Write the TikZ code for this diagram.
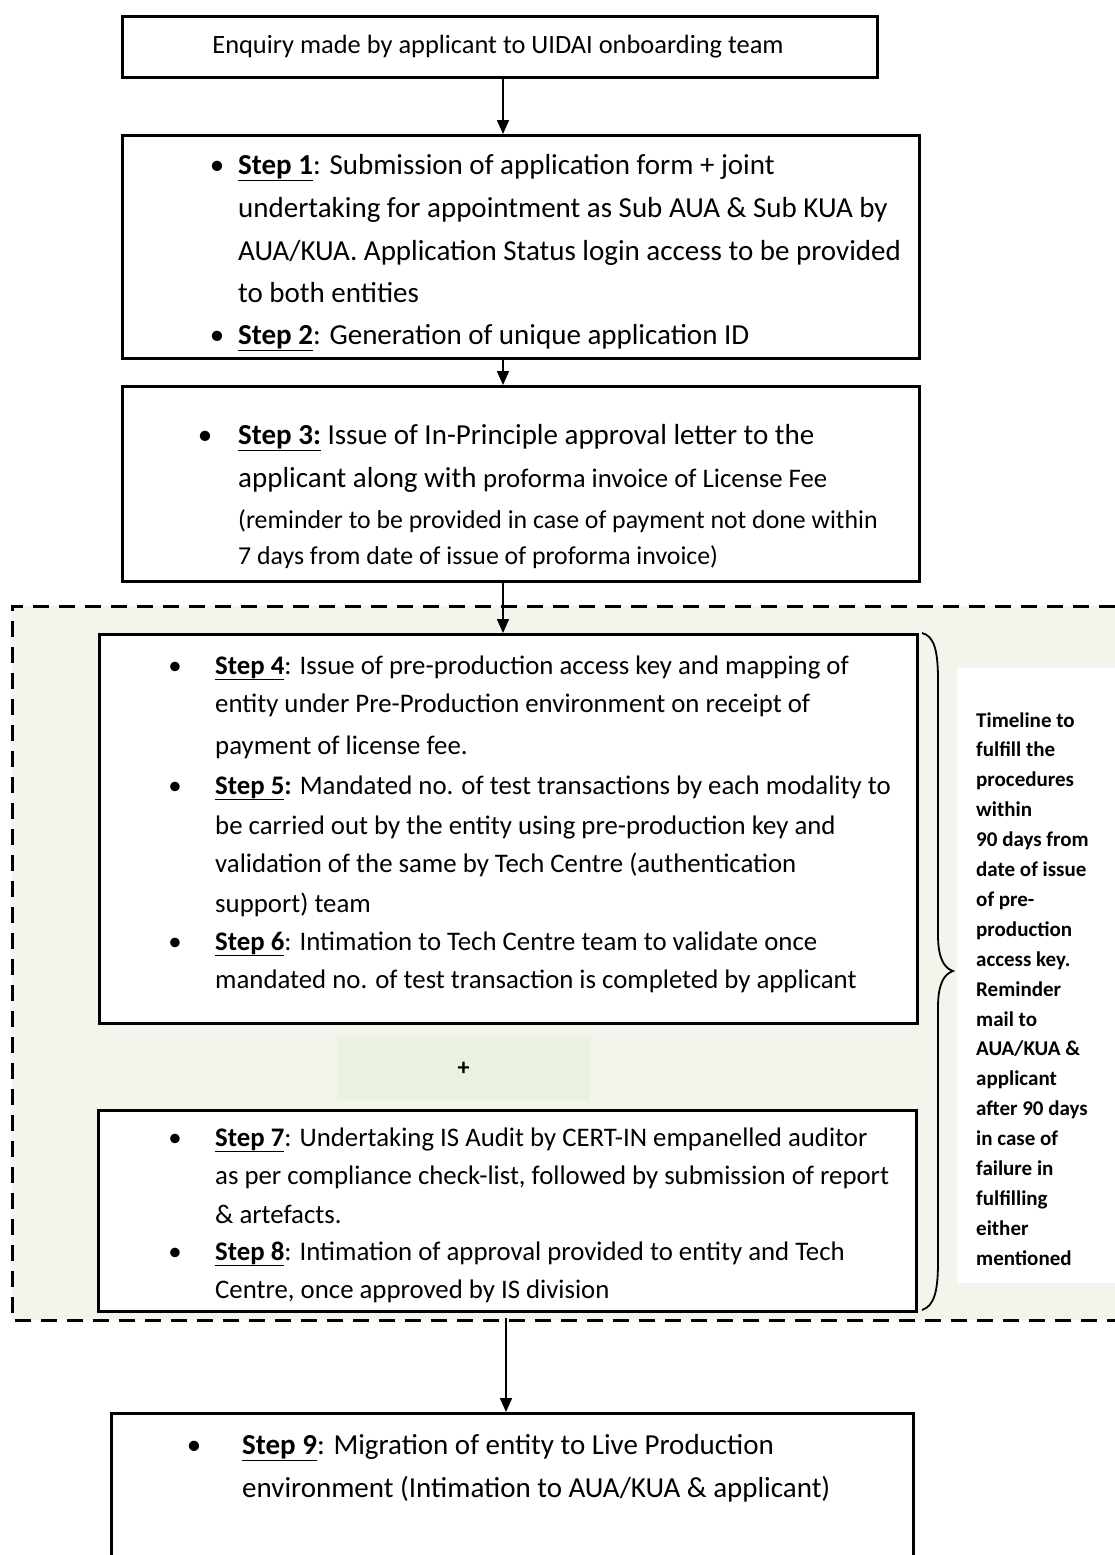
\documentclass[tikz,border=0pt]{standalone}
\usepackage{fontspec}
\setmainfont{Carlito}
\usetikzlibrary{arrows.meta}
\definecolor{zone}{RGB}{242,245,236}
\definecolor{plusfill}{RGB}{234,241,224}
\newcommand\stp[1]{\underline{\textbf{#1}}}
\begin{document}
\begin{tikzpicture}[x=1pt,y=-1pt,
  box/.style={draw, line width=2.8pt, fill=white, rectangle, anchor=north west, inner sep=0pt},
  tl/.style={anchor=base west, inner sep=0pt},
  bul/.style={anchor=base, inner sep=0pt},
  f0/.style={font=\fontsize{26.4}{31}\selectfont},
  fa/.style={font=\fontsize{29}{34}\selectfont},
  fb/.style={font=\fontsize{26.8}{31}\selectfont},
  fc/.style={font=\fontsize{25.8}{30}\selectfont},
  ft/.style={font=\fontsize{21}{25}\selectfont\bfseries},
  arr/.style={line width=1.8pt, -{Triangle[length=14pt,width=12pt]}},
  zonedash/.style={line width=3pt, dash pattern=on 16pt off 10pt}]
\useasboundingbox (0,0) rectangle (1115,1555);

% dashed zone
\fill[zone] (12,606) rectangle (1115,1320);
\draw[zonedash] (1115,606) -- (12,606) -- (12,1320) -- (1115,1320);

% boxes
\node[box, minimum width=755pt, minimum height=61pt] (b0) at (121,15) {};
\node[box, minimum width=797pt, minimum height=223pt] (b1) at (121,134) {};
\node[box, minimum width=797pt, minimum height=195pt] (b2) at (121,385) {};
\node[box, minimum width=818pt, minimum height=389pt] (b3) at (98,633) {};
\node[fill=plusfill, anchor=north west, minimum width=253pt, minimum height=63pt, inner sep=0pt] (pl) at (337,1037) {};
\node[box, minimum width=818pt, minimum height=201pt] (b4) at (97,1109) {};
\node[box, minimum width=802pt, minimum height=160pt] (b5) at (110,1412) {};
\node[fill=white, anchor=north west, minimum width=158pt, minimum height=615pt, inner sep=0pt] (tb) at (957,668) {};

% box 0
\node[f0, anchor=base, inner sep=0pt] (t0) at (498,54) {Enquiry made by applicant to UIDAI onboarding team};

% box 1
\node[fa,bul] (u1) at (217,174) {\textbullet};
\node[fa,tl] (t11) at (238,174) {\stp{Step 1}: Submission of application form + joint};
\node[fa,tl] (t12) at (238,217) {undertaking for appointment as Sub AUA \& Sub KUA by};
\node[fa,tl] (t13) at (238,260) {AUA/KUA. Application Status login access to be provided};
\node[fa,tl] (t14) at (238,302) {to both entities};
\node[fa,bul] (u2) at (217,344) {\textbullet};
\node[fa,tl] (t15) at (238,344) {\stp{Step 2}: Generation of unique application ID};

% box 2
\node[fa,bul] (u3) at (205,444) {\textbullet};
\node[fa,tl] (t21) at (238,444) {\stp{Step 3:} Issue of In-Principle approval letter to the};
\node[fa,tl] (t22) at (238,487) {applicant along with {\fontsize{26.8}{30}\selectfont proforma invoice of License Fee}};
\node[fc,tl] (t23) at (238,528) {(reminder to be provided in case of payment not done within};
\node[fc,tl] (t24) at (238,564) {7 days from date of issue of proforma invoice)};

% box 3
\node[fb,bul] (u4) at (175,674) {\textbullet};
\node[fb,tl] (t31) at (215,674) {\stp{Step 4}: Issue of pre-production access key and mapping of};
\node[fb,tl] (t32) at (215,712) {entity under Pre-Production environment on receipt of};
\node[fb,tl] (t33) at (215,754) {payment of license fee.};
\node[fb,bul] (u5) at (175,794) {\textbullet};
\node[fb,tl] (t34) at (215,794) {\stp{Step 5}\textbf{:} Mandated no. of test transactions by each modality to};
\node[fb,tl] (t35) at (215,834) {be carried out by the entity using pre-production key and};
\node[fb,tl] (t36) at (215,872) {validation of the same by Tech Centre (authentication};
\node[fb,tl] (t37) at (215,912) {support) team};
\node[fb,bul] (u6) at (175,950) {\textbullet};
\node[fb,tl] (t38) at (215,950) {\stp{Step 6}: Intimation to Tech Centre team to validate once};
\node[fb,tl] (t39) at (215,988) {mandated no. of test transaction is completed by applicant};

% plus
\node[font=\fontsize{24}{28}\selectfont\bfseries, inner sep=0pt] (plus) at (pl.center) {+};

% box 4
\node[fb,bul] (u7) at (175,1146) {\textbullet};
\node[fb,tl] (t41) at (215,1146) {\stp{Step 7}: Undertaking IS Audit by CERT-IN empanelled auditor};
\node[fb,tl] (t42) at (215,1184) {as per compliance check-list, followed by submission of report};
\node[fb,tl] (t43) at (215,1223) {\& artefacts.};
\node[fb,bul] (u8) at (175,1260) {\textbullet};
\node[fb,tl] (t44) at (215,1260) {\stp{Step 8}: Intimation of approval provided to entity and Tech};
\node[fb,tl] (t45) at (215,1298) {Centre, once approved by IS division};

% box 5
\node[fa,bul] (u9) at (194,1454) {\textbullet};
\node[fa,tl] (t51) at (242,1454) {\stp{Step 9}: Migration of entity to Live Production};
\node[fa,tl] (t52) at (242,1497) {environment (Intimation to AUA/KUA \& applicant)};

% timeline text
\foreach \t [count=\i] in {Timeline to, fulfill the, procedures, within, 90 days from, date of issue, of pre-, production, access key., Reminder, mail to, AUA/KUA \&, applicant, after 90 days, in case of, failure in, fulfilling, either, mentioned}
  \node[ft,tl] (tt\i) at (976,{727+(\i-1)*29.9}) {\t};

% brace
\draw[line width=1.8pt] (922,633) .. controls (934,636) and (938,650) .. (938,680) -- (938,935)
  .. controls (938,958) and (944,968) .. (953,971)
  .. controls (944,974) and (938,984) .. (938,1007) -- (938,1262)
  .. controls (938,1292) and (934,1306) .. (922,1310);

% connectors
\coordinate (c0) at (503,0);
\draw[arr] (b0.south -| c0) -- (b1.north -| c0);
\draw[arr] (b1.south -| c0) -- (b2.north -| c0);
\draw[arr] (b2.south -| c0) -- (b3.north -| c0);
\coordinate (zb) at (506,1318);
\draw[arr] (zb) -- (zb |- b5.north);
\end{tikzpicture}
\end{document}
